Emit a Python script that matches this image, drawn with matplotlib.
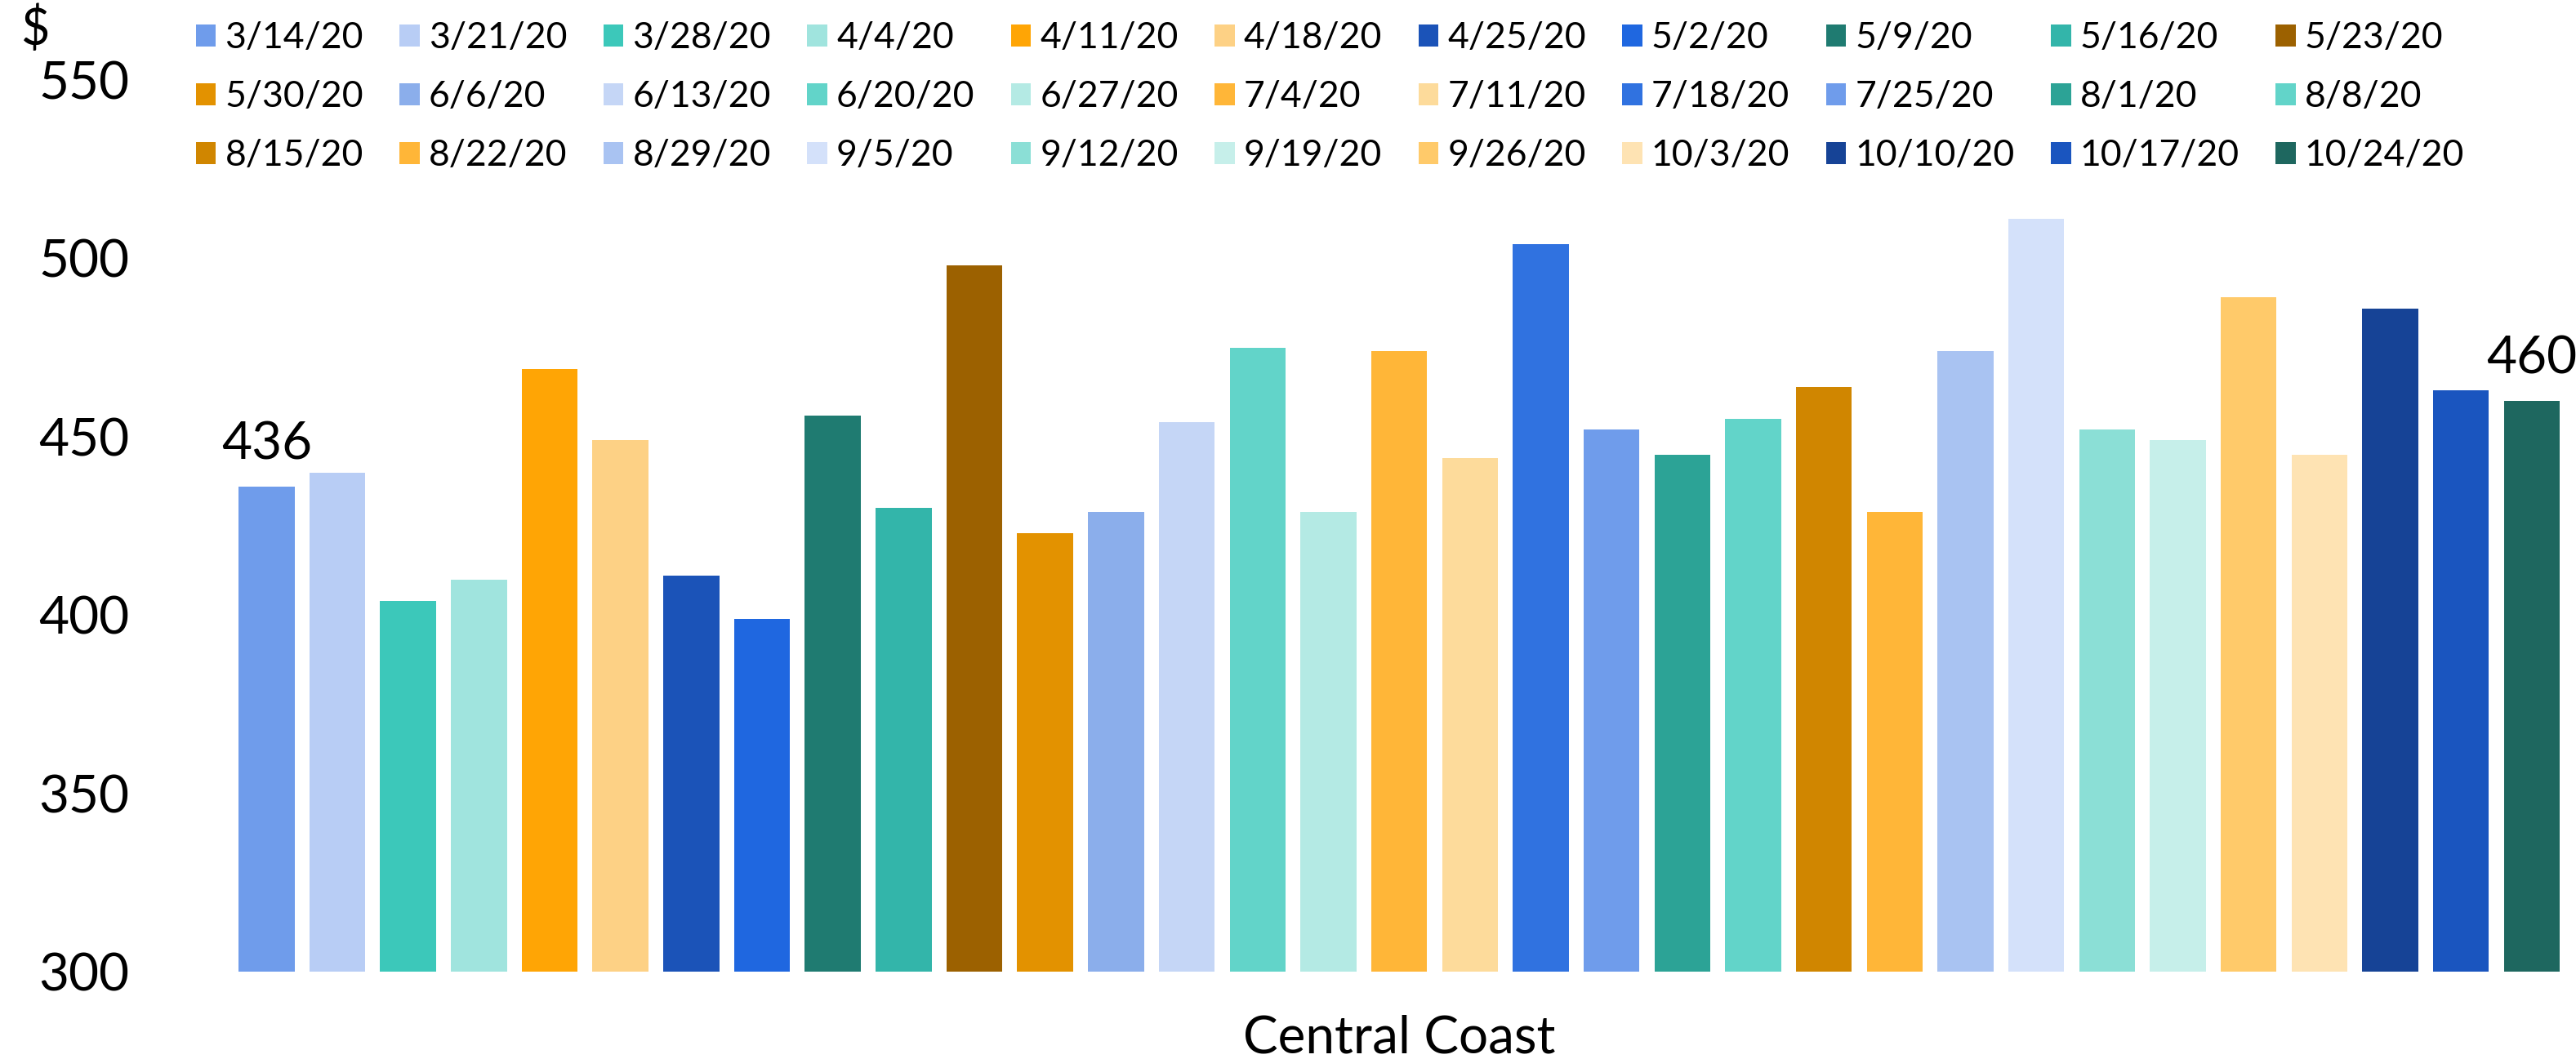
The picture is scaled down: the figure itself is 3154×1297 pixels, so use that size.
import matplotlib
matplotlib.use("Agg")
import matplotlib.pyplot as plt
from matplotlib.patches import Patch

# weekly values for Central Coast
weeks = ['3/14/20', '3/21/20', '3/28/20', '4/4/20', '4/11/20', '4/18/20', '4/25/20',
         '5/2/20', '5/9/20', '5/16/20', '5/23/20', '5/30/20', '6/6/20', '6/13/20',
         '6/20/20', '6/27/20', '7/4/20', '7/11/20', '7/18/20', '7/25/20', '8/1/20',
         '8/8/20', '8/15/20', '8/22/20', '8/29/20', '9/5/20', '9/12/20', '9/19/20',
         '9/26/20', '10/3/20', '10/10/20', '10/17/20', '10/24/20']
values = [436, 440, 404, 410, 469, 449, 411, 399, 456, 430, 498, 423, 429, 454,
          475, 429, 474, 444, 504, 452, 445, 455, 464, 429, 474, 511, 452, 449,
          489, 445, 486, 463, 460]
bar_colors = ['#6F9CEB', '#B8CDF5', '#3CC8BA', '#A0E4DE', '#FFA505', '#FDD185',
              '#1B53B8', '#1F67E0', '#1F7B71', '#33B5AA', '#9C6100', '#E39200',
              '#8BAEEB', '#C5D6F6', '#62D4C9', '#B4EAE4', '#FFB638', '#FDDB9B',
              '#3072E0', '#6F9CEB', '#2CA396', '#62D4C9', '#D08600', '#FFB638',
              '#A9C3F2', '#D4E1FA', '#8BDFD6', '#C6EFEA', '#FFCA6A', '#FEE3B3',
              '#164396', '#1A55BF', '#1E675F']
region = 'Central Coast'
y_ticks = [300, 350, 400, 450, 500, 550]

plt.rcParams['font.family'] = ['Lato', 'DejaVu Sans']

fig = plt.figure(figsize=(15.77, 6.485), dpi=200)
ax = fig.add_axes([0.0926, 0.0825, 0.9011, 0.8419])

x = list(range(len(values)))
ax.bar(x, [v - 300 for v in values], bottom=300, width=0.79, color=bar_colors)

# first and last bars get a value label
for i in (0, len(values) - 1):
    ax.annotate(str(values[i]), (x[i], values[i]), xytext=(0, 8),
                textcoords='offset points', ha='center', va='bottom', fontsize=23)

ax.set_ylim(300, 550)
ax.set_xlim(-0.395, len(values) - 1 + 0.395)
ax.set_yticks(y_ticks)
ax.tick_params(axis='y', length=0, pad=48, labelsize=23)
ax.set_xticks([])
ax.set_xlabel(region, fontsize=23, labelpad=19)
for s in ax.spines.values():
    s.set_visible(False)

fig.text(0.008, 0.972, '$', fontsize=22, ha='left', va='center')

# legend filled row by row, 11 columns
ncol = 11
nrow = 3
handles = [Patch(facecolor=c) for c in bar_colors]
order = [r * ncol + c for c in range(ncol) for r in range(nrow) if r * ncol + c < len(weeks)]
fig.legend([handles[i] for i in order], [weeks[i] for i in order], ncol=ncol,
           loc='upper left', bbox_to_anchor=(0.069, 0.997), frameon=False,
           fontsize=16, handlelength=0.55, handleheight=0.55, handletextpad=0.25,
           columnspacing=1.0, labelspacing=0.7, borderpad=0.0)

fig.savefig('out.png', dpi=200)
